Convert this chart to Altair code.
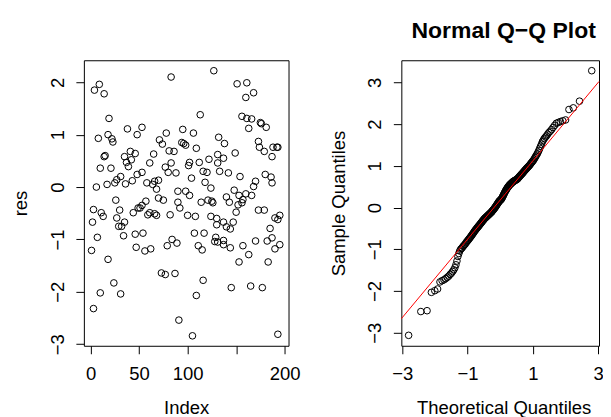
import altair as alt
import pandas as pd
import numpy as np

FONT = "Liberation Sans"

# ---- left panel: res vs Index ----
index = [1, 2, 3, 3, 4, 6, 7, 8, 9, 10, 10, 11, 13, 14, 14, 15, 17, 18, 18, 19,
         21, 22, 23, 24, 25, 26, 27, 27, 29, 30, 31, 31, 32, 34, 35, 35, 36, 37, 38, 39,
         41, 42, 43, 44, 46, 46, 47, 48, 48, 49,
         51, 53, 53, 53, 54, 56, 57, 58, 59, 61, 61, 62, 64, 65, 66, 66, 68, 68, 70, 70,
         71, 73, 74, 75, 77, 77, 78, 79, 80, 81, 82, 83, 83, 84, 86, 87, 88, 89, 90, 90,
         91, 92, 94, 95, 96, 98, 98, 100, 101, 102, 102, 104, 105, 106, 107, 108, 109, 109, 111, 112,
         113, 114, 115, 116, 116, 117, 118, 120, 121, 122,
         124, 125, 126, 124, 127, 128, 129, 130, 130, 131, 131, 131, 132, 133,
         137, 137, 137, 137, 138, 140, 140, 142, 143, 144, 144, 145, 147, 148, 149, 150,
         151, 152, 153, 153, 154, 156, 156, 157, 157, 160, 160, 161, 161, 163, 163, 165, 166, 166, 168, 168,
         170, 170, 173, 173, 174, 175, 176, 177, 179, 179, 180, 181, 182, 183, 185, 186, 187, 187, 187, 188,
         190, 190, 192, 193, 193, 193, 195, 195]
res = [-1.21, -0.67, -2.32, -0.43, 1.85, 0.00, -0.96, 0.93, 1.96, -2.02, 0.36, -0.49, -0.56, 1.78, 0.58, 0.60, 0.05, -1.38, 1.00, 1.31,
       0.36, 0.92, 0.86, -1.83, 0.08, -0.25, 0.14, -0.59, -0.75, -0.44, 0.20, -2.04, -0.75, -0.93, -0.67, 0.58, 0.06, 0.47, 1.11, 0.39,
       0.68, 0.52, 0.12, -0.49, -0.90, 0.64, -1.15, 1.00, 0.24, -0.40,
       -0.40, 1.14, 0.28, -0.35, -0.88, -1.22, -0.27, 0.08, -0.53, 0.46, -0.49, -1.18, 0.05, 0.63, 0.11, -0.51, -0.04, -0.54, -0.21, 0.13,
       0.90, -1.64, 0.82, -0.25, 0.38, -1.67, 1.03, -1.12, 0.28, 0.69, -0.53, 2.10, 0.46, -1.00, 0.68, -1.65, 0.27, -1.07, -0.29, -0.08,
       -2.54, -0.40, 0.85, 1.10, 0.83, -0.08, 0.80, -0.54, 0.41, 0.47, -0.16, 0.17, -2.84, 1.03, -0.88, -0.56, 0.74, -2.07, -1.12, 0.47,
       1.38, -0.29, -1.20, 0.30, -1.78, -0.88, 0.09, 0.28, -0.25, 0.53,
       -0.02, -0.27, -0.30, -0.56, 2.22, -1.04, -0.96, -0.60, -0.72, 0.62, 0.46, -1.05, 0.95, 0.30,
       0.55, -0.67, -1.02, -1.10, 0.83, -0.19, -0.76, 0.27, -0.29, -0.80, -1.16, -1.92, -0.67, -0.06, 0.65, -0.48,
       1.97, -0.34, -0.16, -1.43, 0.20, -0.30, 1.35, -1.12, -0.24, 1.71, -0.13, 1.99, 1.31, 1.12, -1.29, -1.89, -0.16, 1.30, 1.80, 0.01,
       0.11, -1.03, 0.87, -0.44, 0.76, 1.23, 1.21, -1.92, 0.68, -0.44, 0.24, 1.14, -1.03, -1.43, -0.79, 0.19, 0.58, 0.08, -0.97, 0.76,
       -0.59, -1.18, 0.76, 0.76, -0.62, -2.81, -0.54, -1.10]

# ---- right panel: sorted sample quantiles ----
sample = [-3.06, -2.49, -2.47, -2.03, -1.99, -1.95, -1.78, -1.75, -1.73, -1.70,
          -1.67, -1.64, -1.60, -1.57, -1.53, -1.49, -1.44, -1.37, -1.28, -1.17,
          -1.10, -1.04, -1.00, -0.98, -0.96, -0.93, -0.91, -0.89, -0.87, -0.84,
          -0.82, -0.80, -0.78, -0.76, -0.74, -0.72, -0.70, -0.68, -0.66, -0.64,
          -0.62, -0.60, -0.58, -0.56, -0.54, -0.53, -0.51, -0.49, -0.48, -0.46,
          -0.45, -0.43, -0.42, -0.40, -0.39, -0.37, -0.36, -0.34, -0.33, -0.31,
          -0.30, -0.29, -0.27, -0.26, -0.25, -0.24, -0.23, -0.22, -0.21, -0.20,
          -0.19, -0.18, -0.17, -0.16, -0.15, -0.14, -0.13, -0.12, -0.11, -0.10,
          -0.09, -0.07, -0.06, -0.05, -0.04, -0.02, -0.01, 0.00, 0.02, 0.03,
          0.05, 0.06, 0.08, 0.09, 0.11, 0.12, 0.14, 0.15, 0.16, 0.17,
          0.18, 0.19, 0.20, 0.21, 0.23, 0.25, 0.27, 0.29, 0.31, 0.33,
          0.35, 0.37, 0.39, 0.41, 0.42, 0.44, 0.46, 0.47, 0.49, 0.50,
          0.51, 0.53, 0.54, 0.55, 0.56, 0.57, 0.58, 0.59, 0.60, 0.61,
          0.62, 0.63, 0.63, 0.64, 0.65, 0.65, 0.66, 0.67, 0.67, 0.68,
          0.69, 0.70, 0.72, 0.73, 0.74, 0.76, 0.77, 0.78, 0.80, 0.81,
          0.82, 0.84, 0.85, 0.87, 0.88, 0.90, 0.91, 0.93, 0.94, 0.96,
          0.97, 0.99, 1.00, 1.02, 1.04, 1.06, 1.08, 1.10, 1.12, 1.14,
          1.17, 1.20, 1.23, 1.26, 1.29, 1.33, 1.37, 1.42, 1.47, 1.52,
          1.58, 1.62, 1.66, 1.69, 1.72, 1.76, 1.80, 1.83, 1.87, 1.92,
          1.97, 2.02, 2.04, 2.06, 2.08, 2.10, 2.35, 2.39, 2.55, 3.28]

left_x_ticks = [0, 50, 100, 150, 200]
left_y_ticks = [-3, -2, -1, 0, 1, 2]
qq_x_ticks = [-3, -2, -1, 0, 1, 2, 3]
qq_y_ticks = [-3, -2, -1, 0, 1, 2, 3]

left_df = pd.DataFrame({"Index": index, "res": res})
qq_df = pd.DataFrame({"sample": sample})

# qqline: through the first and third quartiles
z75 = 0.6744897501960817
q1, q3 = np.quantile(sample, [0.25, 0.75])
slope = (q3 - q1) / (2 * z75)
intercept = q1 + slope * z75
qq_xdom = [-3.03, 3.03]
line_df = pd.DataFrame({"t": qq_xdom})
line_df["y"] = intercept + slope * line_df["t"]

WL, WR, H = 205, 198, 286
FS = 18.5

def axis(values, title_x=None, title_y=None, expr=None, vertical=False, **kw):
    d = dict(values=values, grid=False, domain=False, ticks=True, tickSize=8,
             tickColor="black", tickWidth=1,
             labelFont=FONT, labelFontSize=FS, labelColor="black",
             titleFont=FONT, titleFontSize=FS, titleColor="black",
             titleFontWeight="normal", labelOverlap=False, labelFlush=False)
    if expr:
        d["labelExpr"] = expr
    if vertical:
        d.update(labelAngle=270, labelAlign="center", labelBaseline="alphabetic",
                 labelPadding=12.5, titleAngle=270, titleAlign="center",
                 titleBaseline="alphabetic")
    else:
        d.update(labelAlign="center", labelBaseline="alphabetic", labelPadding=25.3,
                 titleAlign="center", titleBaseline="alphabetic")
    if title_x is not None:
        d["titleX"] = title_x
    if title_y is not None:
        d["titleY"] = title_y
    d.update(kw)
    return alt.Axis(**d)

pt = dict(shape="circle", filled=False, color="black", size=44, strokeWidth=1, opacity=1)

left = alt.Chart(left_df).mark_point(**pt).encode(
    x=alt.X("Index:Q", title="Index",
            scale=alt.Scale(domain=[-6.9, 204], nice=False, zero=False),
            axis=axis(left_x_ticks, title_x=WL / 2, title_y=67.5,
                      expr="datum.value == 150 ? '' : datum.label")),
    y=alt.Y("res:Q", title="res",
            scale=alt.Scale(domain=[-3.03, 2.42], nice=False, zero=False),
            axis=axis(left_y_ticks, title_x=-57.3, title_y=H / 2, vertical=True)),
).properties(width=WL, height=H)

qx = alt.X("theo:Q", title="Theoretical Quantiles",
           scale=alt.Scale(domain=qq_xdom, nice=False, zero=False),
           axis=axis(qq_x_ticks, title_x=102.5, title_y=67.5,
                     expr="datum.value == -2 ? '' : datum.label"))
qy = alt.Y("sample:Q", title="Sample Quantiles",
           scale=alt.Scale(domain=[-3.31, 3.53], nice=False, zero=False),
           axis=axis(qq_y_ticks, title_x=-57.3, title_y=H / 2, vertical=True))

qq_pts = alt.Chart(qq_df).transform_window(
    rank="row_number()", sort=[alt.SortField("sample")]
).transform_joinaggregate(n="count()").transform_calculate(
    theo="quantileNormal((datum.rank - 0.5) / datum.n)"
).mark_point(**pt).encode(x=qx, y=qy)

qq_line = alt.Chart(line_df).mark_line(color="red", strokeWidth=1).encode(
    x=alt.X("t:Q"), y=alt.Y("y:Q"))

right = alt.layer(qq_pts, qq_line).properties(
    width=WR, height=H,
    title=alt.TitleParams("Normal Q\u2212Q Plot", font=FONT, fontSize=23,
                          fontWeight="bold", color="black", anchor="middle",
                          baseline="alphabetic", offset=-1, frame="group", dx=3.5))

chart = alt.hconcat(left, right, spacing=113, bounds="flush").properties(
    padding={"left": 3, "top": 11, "right": -1, "bottom": 0},
    background="white",
).configure_view(stroke="black", strokeWidth=1, fill="white")

chart.save("out.html", embed_options={"renderer": "svg", "actions": False})
